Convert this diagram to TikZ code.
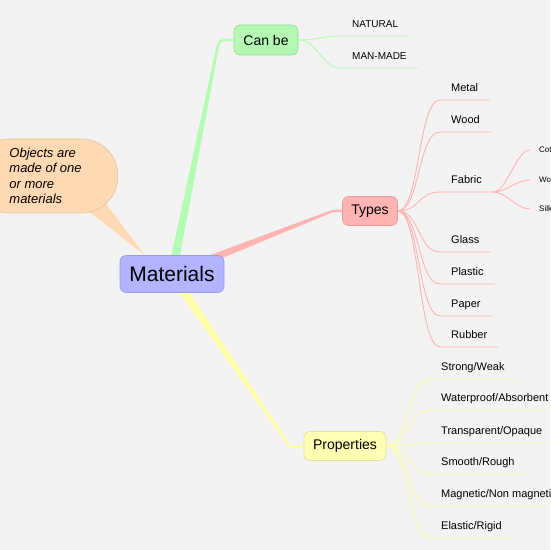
\documentclass[tikz,border=0pt]{standalone}
\usepackage{fontspec}
\setmainfont{Liberation Sans}
\usepackage{tikz}
\usetikzlibrary{calc,backgrounds}
\definecolor{paper}{HTML}{F3F3F3}
\definecolor{matfill}{HTML}{B3B3FF}
\definecolor{matdraw}{HTML}{9C9CE8}
\definecolor{cbfill}{HTML}{B3F7B3}
\definecolor{cbdraw}{HTML}{94DC94}
\definecolor{cbline}{HTML}{B3FCB3}
\definecolor{tyfill}{HTML}{FFB3B3}
\definecolor{tydraw}{HTML}{E39C9C}
\definecolor{tyline}{HTML}{FFB3B3}
\definecolor{prfill}{HTML}{FFFFB3}
\definecolor{prdraw}{HTML}{E2E29C}
\definecolor{prline}{HTML}{FFFFAA}
\definecolor{notefill}{HTML}{FFD9B3}
\definecolor{notedraw}{HTML}{E5C29E}
% tapered main branch: colour, from, to, half width at start
\newcommand{\mmbranch}[4]{%
  \fill[#1] ($(#2)!#4!90:(#3)$) -- ($(#3)!1.2pt!-90:(#2)$) -- ($(#3)!1.2pt!90:(#2)$) -- ($(#2)!#4!-90:(#3)$) -- cycle;}

\begin{document}
\begin{tikzpicture}[
    x=1pt, y=1pt,
    topic/.style={rectangle, draw, rounded corners=6pt, line width=0.6pt, inner sep=0pt, font=\fontsize{14}{16}\selectfont},
    note/.style={rectangle, draw=notedraw, fill=notefill, line width=0.6pt, rounded corners=36pt, anchor=east, align=left, inner xsep=36pt, inner ysep=0pt, minimum height=74pt, font=\itshape\fontsize{13}{15.3}\selectfont},
    leaf/.style={anchor=south west, inner xsep=11pt, inner ysep=8pt, text depth=0pt, font=\fontsize{11}{13}\selectfont},
    capleaf/.style={leaf, font=\fontsize{10}{12}\selectfont},
    kid/.style={anchor=west, inner xsep=9pt, inner ysep=1pt, font=\fontsize{8}{9}\selectfont},
    twig/.style={line width=0.9pt},
    stem/.style={line width=2.4pt},
]
\useasboundingbox (0,0) rectangle (550,550);
\clip (0,0) rectangle (550,550);

\node[topic, fill=matfill, draw=matdraw, minimum width=104pt, minimum height=37pt, font=\fontsize{21}{24}\selectfont] (mat) at (172,276) {Materials};
\node[topic, fill=cbfill, draw=cbdraw, minimum width=64pt, minimum height=30pt] (cb) at (266,510) {Can be};
\node[topic, fill=tyfill, draw=tydraw, minimum width=55pt, minimum height=29pt] (ty) at (370,339) {Types};
\node[topic, fill=prfill, draw=prdraw, minimum width=82pt, minimum height=29pt] (pr) at (345,104) {Properties};
\node[note] (note) at (118,374) {Objects are\\made of one\\or more\\materials};

\coordinate (cbk) at (218,505);
\coordinate (tyk) at (330,338);
\coordinate (prk) at (288,106);

\node[capleaf] (nat) at (341,514) {NATURAL};
\node[capleaf] (man) at (341,482) {MAN-MADE};

\node[leaf] (metal) at (440,450) {Metal};
\node[leaf] (wood) at (440,418) {Wood};
\node[leaf] (fab) at (440,358) {Fabric};
\node[leaf] (glass) at (440,298) {Glass};
\node[leaf] (plast) at (440,266) {Plastic};
\node[leaf] (paper) at (440,234) {Paper};
\node[leaf] (rubber) at (440,203) {Rubber};
\node[kid] (cotton) at (530,400) {Cotton};
\node[kid] (wool) at (530,370) {Wool};
\node[kid] (silk) at (530,341) {Silk};

\node[leaf] (strong) at (430,171) {Strong/Weak};
\node[leaf] (water) at (430,140) {Waterproof/Absorbent};
\node[leaf] (transp) at (430,107) {Transparent/Opaque};
\node[leaf] (smooth) at (430,76) {Smooth/Rough};
\node[leaf] (magn) at (430,44) {Magnetic/Non magnetic};
\node[leaf] (elast) at (430,12) {Elastic/Rigid};

\begin{scope}[on background layer]
\clip (0,0) rectangle (550,550);
\fill[paper] (0,0) rectangle (550,550);
\fill[notefill] ([xshift=-32pt,yshift=4pt]note.south east) -- ([xshift=-14pt,yshift=12pt]note.south east) -- ([xshift=-27pt]mat.north) -- cycle;

\mmbranch{cbline}{mat.center}{cbk}{4.5pt}
\mmbranch{tyline}{mat.center}{tyk}{4.5pt}
\mmbranch{prline}{mat.center}{prk}{4.5pt}
\draw[cbline, stem] (cbk) to[out=78,in=180] (cb.west);
\draw[tyline, stem] (tyk) to[out=21,in=180] (ty.west);
\draw[prline, stem] (prk) to[out=-55,in=180] (pr.west);

\draw[cbline, twig] (cb.east) to[out=0,in=180,distance=20pt] (nat.south west) -- (nat.south east);
\draw[cbline, twig] (cb.east) to[out=0,in=180,distance=20pt] (man.south west) -- (man.south east);

\draw[tyline, twig] (ty.east) to[out=0,in=180,distance=22pt] (metal.south west) -- (metal.south east);
\draw[tyline, twig] (ty.east) to[out=0,in=180,distance=22pt] (wood.south west) -- (wood.south east);
\draw[tyline, twig] (ty.east) to[out=0,in=180,distance=22pt] (fab.south west) -- (fab.south east);
\draw[tyline, twig] (ty.east) to[out=0,in=180,distance=22pt] (glass.south west) -- (glass.south east);
\draw[tyline, twig] (ty.east) to[out=0,in=180,distance=22pt] (plast.south west) -- (plast.south east);
\draw[tyline, twig] (ty.east) to[out=0,in=180,distance=22pt] (paper.south west) -- (paper.south east);
\draw[tyline, twig] (ty.east) to[out=0,in=180,distance=22pt] (rubber.south west) -- (rubber.south east);
\draw[tyline, twig] (fab.south east) to[out=0,in=180,distance=14pt] (cotton.west);
\draw[tyline, twig] (fab.south east) to[out=0,in=180,distance=14pt] (wool.west);
\draw[tyline, twig] (fab.south east) to[out=0,in=180,distance=14pt] (silk.west);

\draw[prline, twig] (pr.east) to[out=0,in=180,distance=22pt] (strong.south west) -- (strong.south east);
\draw[prline, twig] (pr.east) to[out=0,in=180,distance=22pt] (water.south west) -- (water.south east);
\draw[prline, twig] (pr.east) to[out=0,in=180,distance=22pt] (transp.south west) -- (transp.south east);
\draw[prline, twig] (pr.east) to[out=0,in=180,distance=22pt] (smooth.south west) -- (smooth.south east);
\draw[prline, twig] (pr.east) to[out=0,in=180,distance=22pt] (magn.south west) -- (magn.south east);
\draw[prline, twig] (pr.east) to[out=0,in=180,distance=22pt] (elast.south west) -- (elast.south east);
\end{scope}
\end{tikzpicture}
\end{document}
